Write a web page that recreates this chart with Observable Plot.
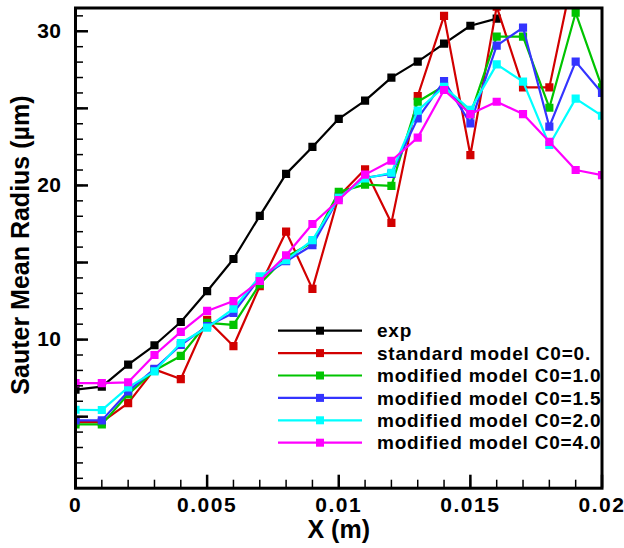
<!DOCTYPE html>
<html>
<head>
<meta charset="utf-8">
<script src="https://cdn.jsdelivr.net/npm/d3@7"></script>
<script src="https://cdn.jsdelivr.net/npm/@observablehq/plot@0.6"></script>
<style>
  html, body { margin: 0; padding: 0; background: #fff; }
  #chart svg { display: block; }
</style>
</head>
<body>
<div id="chart"></div>
<script>
// ---- data ----
const xs = [0, 0.001, 0.002, 0.003, 0.004, 0.005, 0.006, 0.007, 0.008, 0.009, 0.010,
            0.011, 0.012, 0.013, 0.014, 0.015, 0.016, 0.017, 0.018, 0.019, 0.020];

const expVals = [6.75, 6.95, 8.38, 9.63, 11.14, 13.14, 15.23, 18.03, 20.75, 22.5, 24.32,
                 25.5, 26.99, 28.03, 29.2, 30.36, 30.82];
const stdC0_0 = [4.65, 4.65, 5.88, 8.07, 7.44, 11.28, 9.58, 13.46, 17.0, 13.29, 19.3,
                 21.05, 17.57, 25.8, 31.0, 21.97, 31.6, 26.36, 26.36, 34.5];
const modC0_1_0 = [4.5, 4.5, 6.45, 8.0, 8.94, 11.08, 10.95, 13.6, 15.36, 16.3, 19.58,
                   20.05, 19.97, 25.43, 26.45, 24.6, 29.65, 29.65, 25.04, 31.2, 26.36];
const modC0_1_5 = [4.76, 4.76, 6.64, 8.1, 9.65, 10.88, 11.73, 14.0, 15.08, 16.12, 19.2,
                   20.5, 20.75, 24.35, 26.77, 24.03, 29.07, 30.24, 23.81, 28.03, 26.0];
const modC0_2_0 = [5.45, 5.43, 6.9, 7.94, 9.78, 10.78, 12.0, 14.1, 15.15, 16.45, 19.2,
                   20.45, 20.82, 24.85, 26.4, 24.9, 27.85, 26.73, 22.62, 25.63, 24.52];
const modC0_4_0 = [7.18, 7.18, 7.23, 9.0, 10.5, 11.86, 12.5, 13.8, 15.47, 17.5, 19.05,
                   20.7, 21.6, 23.1, 26.19, 24.63, 25.43, 24.63, 22.83, 21.0, 20.67];

const seriesNames = ["exp", "standard model C0=0.", "modified model C0=1.0",
                     "modified model C0=1.5", "modified model C0=2.0", "modified model C0=4.0"];
const seriesValues = [expVals, stdC0_0, modC0_1_0, modC0_1_5, modC0_2_0, modC0_4_0];
const seriesColors = ["#000000", "#d20000", "#00c400", "#3434ff", "#00ffff", "#ff00ff"];

const xLabelTicks = [0, 0.005, 0.01, 0.015, 0.02];
const xMajorTicks = [0, 0.005, 0.01, 0.015, 0.02];
const xMinorTicks = d3.range(0, 21).map(i => i / 1000);
const yLabelTicks = [10, 20, 30];
const yMajorTicks = [5, 10, 15, 20, 25, 30];
const yMinorTicks = d3.range(1, 32);

const xDomain = [0, 0.02];
const yDomain = [0.36, 31.51];

// ---- layout ----
const W = 624, H = 548;
const mL = 75, mR = 22.5, mT = 7.5, mB = 60.3;
const innerW = W - mL - mR, innerH = H - mT - mB;
const FONT = "'Liberation Sans', Arial, Helvetica, sans-serif";

const rows = [];
seriesValues.forEach((vals, s) => {
  vals.forEach((v, i) => rows.push({series: seriesNames[s], x: xs[i], y: v, s}));
});

const marks = [];
seriesNames.forEach((name, s) => {
  const d = rows.filter(r => r.s === s);
  marks.push(Plot.line(d, {x: "x", y: "y", stroke: seriesColors[s], strokeWidth: 2.2, clip: true}));
  marks.push(Plot.dot(d, {x: "x", y: "y", symbol: "square", r: 4.6, fill: seriesColors[s], stroke: "none", clip: true}));
});

const chart = Plot.plot({
  width: W, height: H,
  marginLeft: mL, marginRight: mR, marginTop: mT, marginBottom: mB,
  style: {fontFamily: FONT, fontWeight: "bold", background: "#fff", color: "#000"},
  x: {domain: xDomain},
  y: {domain: yDomain},
  marks: [
    ...marks,
    // inward ticks
    Plot.tickX(xMinorTicks, {x: d => d, insetTop: innerH - 8, stroke: "#000", strokeWidth: 1.5}),
    Plot.tickX(xMajorTicks, {x: d => d, insetTop: innerH - 13, stroke: "#000", strokeWidth: 2.5}),
    Plot.tickY(yMinorTicks, {y: d => d, insetRight: innerW - 8, stroke: "#000", strokeWidth: 1.5}),
    Plot.tickY(yMajorTicks, {y: d => d, insetRight: innerW - 13, stroke: "#000", strokeWidth: 2.5}),
    Plot.axisX({ticks: xLabelTicks, tickSize: 0, tickPadding: 9, tickFormat: d => String(d),
                fontSize: 21, fontWeight: "bold", label: null}),
    Plot.axisY({ticks: yLabelTicks, tickSize: 0, tickPadding: 14, tickFormat: d => String(d),
                fontSize: 21, fontWeight: "bold", label: null}),
    Plot.frame({stroke: "#000", strokeWidth: 3}),
    Plot.text(["X (m)"], {frameAnchor: "bottom", dy: 42, lineAnchor: "middle", textAnchor: "middle",
              fontSize: 25, fontWeight: "bold", fill: "#000", ariaLabel: "xtitle"}),
    Plot.text(["Sauter Mean Radius (µm)"], {frameAnchor: "left", dx: -55, dy: -3, rotate: -90,
              textAnchor: "middle", lineAnchor: "middle",
              fontSize: 25, fontWeight: "bold", fill: "#000"})
  ]
});

const svg = d3.select(chart);
// slightly wider lettering, as in the reference
svg.selectAll('g[aria-label="x-axis tick label"] text').attr("letter-spacing", "1.5px");
svg.selectAll('g[aria-label="y-axis tick label"] text').attr("letter-spacing", "0.5px");
svg.selectAll('g[aria-label="xtitle"] text').attr("letter-spacing", "1px");

// ---- legend (pixel layout inside plot frame) ----
const lg = svg.append("g").attr("class", "legend");
const legX0 = 278, legX1 = 362, legMark = 320, legText = 377, legY0 = 330.7, legDy = 22.4;
seriesNames.forEach((name, s) => {
  const y = legY0 + s * legDy;
  lg.append("line").attr("x1", legX0).attr("x2", legX1).attr("y1", y).attr("y2", y)
    .attr("stroke", seriesColors[s]).attr("stroke-width", 2.2);
  lg.append("rect").attr("x", legMark - 4).attr("y", y - 4).attr("width", 8).attr("height", 8)
    .attr("fill", seriesColors[s]);
  lg.append("text").attr("x", legText).attr("y", y).attr("dy", "0.35em")
    .attr("text-anchor", "start").attr("letter-spacing", "0.8px")
    .attr("font-family", FONT).attr("font-weight", "bold").attr("font-size", 19)
    .attr("fill", "#000").text(name);
});

document.getElementById("chart").appendChild(chart);
</script>
</body>
</html>
